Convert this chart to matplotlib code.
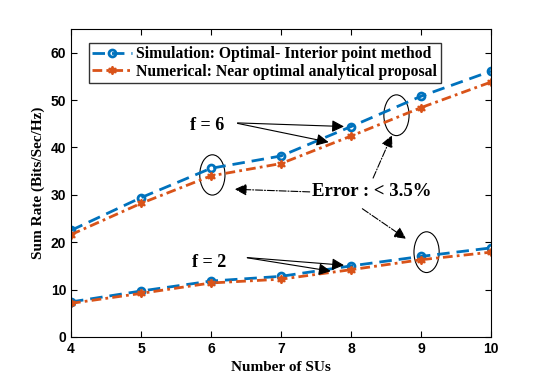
import matplotlib.pyplot as plt
from matplotlib.patches import Ellipse

# data
n_su = [4, 5, 6, 7, 8, 9, 10]
sim_f6 = [22.5, 29.4, 35.6, 38.2, 44.4, 50.8, 56.1]
num_f6 = [21.6, 28.2, 34.0, 36.6, 42.4, 48.4, 53.8]
sim_f2 = [7.4, 9.7, 11.8, 12.8, 15.0, 17.0, 18.8]
num_f2 = [7.1, 9.2, 11.4, 12.2, 14.2, 16.3, 17.9]

blue = '#0072BD'
orange = '#D95319'
serif = 'Liberation Serif'

fig = plt.figure(figsize=(5.44, 3.8), dpi=100)
ax = fig.add_axes([0.1305, 0.1132, 0.772, 0.8105])

sim_kw = dict(color=blue, ls=(0, (4.5, 2.5)), lw=2, marker='o', ms=5, mfc='none', mew=2)
num_kw = dict(color=orange, ls=(0, (3.5, 1.5, 1, 1.5)), lw=2, marker=(6, 1, 0), ms=6, mew=1.2)

ax.plot(n_su, sim_f6, label='Simulation: Optimal- Interior point method', **sim_kw)
ax.plot(n_su, num_f6, label='Numerical: Near optimal analytical proposal', **num_kw)
ax.plot(n_su, sim_f2, **sim_kw)
ax.plot(n_su, num_f2, **num_kw)

ax.set_xlim(4, 10)
ax.set_ylim(0, 65)
ax.set_xticks(n_su)
ax.set_yticks([0, 10, 20, 30, 40, 50, 60])
ax.tick_params(direction='in', top=True, right=True, labelsize=10, length=4)
for lab in ax.get_xticklabels() + ax.get_yticklabels():
    lab.set_fontweight('bold')
    lab.set_family('Liberation Sans')

ax.set_xlabel('Number of SUs', fontsize=11, fontweight='bold', family=serif)
ax.set_ylabel('Sum Rate (Bits/Sec/Hz)', fontsize=11, fontweight='bold', family=serif)

leg = ax.legend(loc='upper left', bbox_to_anchor=(0.025, 0.98), fancybox=False,
                prop={'family': serif, 'weight': 'bold', 'size': 11.3},
                edgecolor='black', handlelength=2.5, handletextpad=0.3,
                borderpad=0.2, labelspacing=0.1)
leg.get_frame().set_linewidth(1)

# ellipses
for cx, cy, h in [(6.02, 34.2, 8.5), (8.65, 46.8, 8.6), (9.08, 17.9, 8.6)]:
    ax.add_patch(Ellipse((cx, cy), 0.36, h, fill=False, lw=0.8, color='black'))

# f = 6
ax.text(5.95, 44.7, 'f = 6', fontsize=13, fontweight='bold', family=serif,
        ha='center', va='center')
arr = dict(arrowstyle='-|>', color='black', lw=0.8, mutation_scale=18)
ax.annotate('', xy=(7.94, 44.4), xytext=(6.34, 45.2), arrowprops=arr)
ax.annotate('', xy=(7.72, 41.0), xytext=(6.34, 45.2), arrowprops=arr)

# f = 2
ax.text(5.97, 15.8, 'f = 2', fontsize=13, fontweight='bold', family=serif,
        ha='center', va='center')
ax.annotate('', xy=(7.94, 15.1), xytext=(6.48, 16.8), arrowprops=arr)
ax.annotate('', xy=(7.75, 13.8), xytext=(6.48, 16.8), arrowprops=arr)

# error text
ax.text(8.3, 30.6, 'Error : < 3.5%', fontsize=13.5, fontweight='bold', family=serif,
        ha='center', va='center')
arr2 = dict(arrowstyle='-|>', color='black', lw=0.8, ls='-.', mutation_scale=18)
ax.annotate('', xy=(6.3, 31.2), xytext=(7.45, 30.6), arrowprops=arr2)
ax.annotate('', xy=(8.6, 43.1), xytext=(8.3, 33.0), arrowprops=arr2)
ax.annotate('', xy=(8.82, 20.4), xytext=(8.13, 27.4), arrowprops=arr2)

plt.savefig('out.png', dpi=100)
